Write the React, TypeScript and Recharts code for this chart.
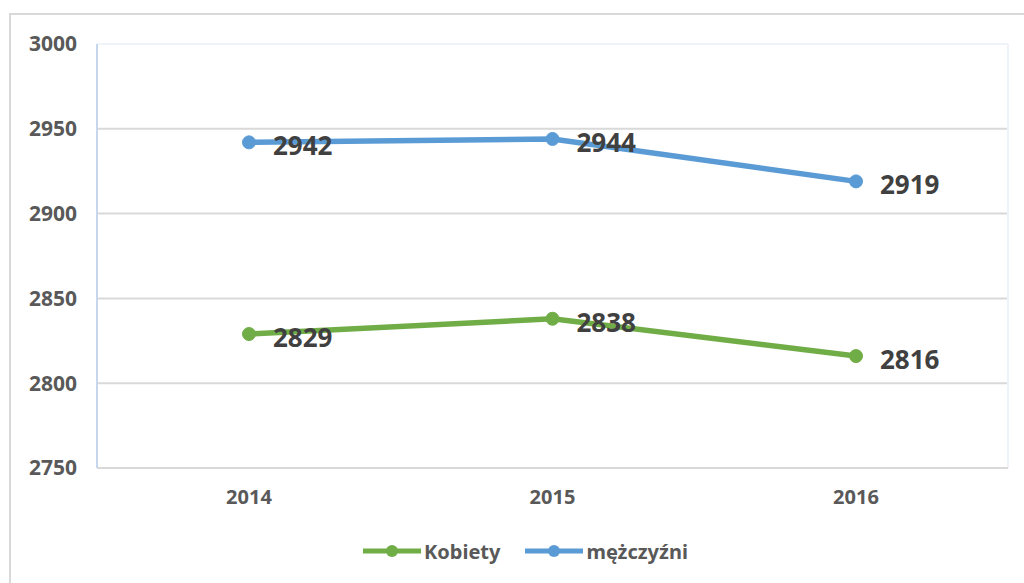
import { LineChart, Line, XAxis, YAxis, CartesianGrid, Legend, LabelList, ReferenceLine } from 'recharts'

const years = ['2014', '2015', '2016']
const kobiety = [2829, 2838, 2816]
const mezczyzni = [2942, 2944, 2919]
const yTicks = [2750, 2800, 2850, 2900, 2950, 3000]

const FONT = '"Noto Sans", "DejaVu Sans", sans-serif'

const series = [
  { key: 'kobiety', name: 'Kobiety', color: '#70AD47' },
  { key: 'mezczyzni', name: 'mężczyźni', color: '#5B9BD5' },
]

const chartData = years.map((year, i) => ({
  year,
  kobiety: kobiety[i],
  mezczyzni: mezczyzni[i],
}))

// etykieta wartości po prawej stronie punktu
const renderValue = (props: any) => {
  const { x, y, value } = props
  return (
    <text
      x={x + 24}
      y={y + 3}
      dominantBaseline="central"
      fill="#404040"
      fontSize={26}
      fontWeight={700}
      fontFamily={FONT}
    >
      {value}
    </text>
  )
}

const renderLegend = () => (
  <div style={{ display: 'flex', alignItems: 'center', paddingLeft: 363, height: 24 }}>
    {series.map((s, i) => (
      <div key={s.key} style={{ display: 'flex', alignItems: 'center', marginRight: i === 0 ? 25 : 0 }}>
        <svg width={58} height={16}>
          <line x1={0} y1={8} x2={58} y2={8} stroke={s.color} strokeWidth={5} strokeLinecap="round" />
          <circle cx={29} cy={8} r={6} fill={s.color} />
        </svg>
        <span
          style={{
            marginLeft: 3,
            fontFamily: FONT,
            fontWeight: 700,
            fontSize: 20,
            color: '#595959',
          }}
        >
          {s.name}
        </span>
      </div>
    ))}
  </div>
)

export default function App() {
  return (
    <div style={{ position: 'relative', width: 1024, height: 583, overflow: 'hidden', background: '#fff' }}>
      <style>{'body{margin:0;overflow:hidden}'}</style>
      <div
        style={{
          position: 'absolute',
          left: 9,
          top: 13,
          width: 1040,
          height: 620,
          border: '2px solid #d9d9d9',
          boxSizing: 'border-box',
        }}
      />
      <div style={{ position: 'absolute', left: 0, top: 0 }}>
        <LineChart
          width={1024}
          height={583}
          data={chartData}
          margin={{ top: 44, right: 16, left: 0, bottom: 20 }}
        >
          <CartesianGrid vertical={false} stroke="#d9d9d9" strokeWidth={2} />
          <CartesianGrid
            horizontal={false}
            stroke="#eef2fa"
            strokeWidth={2}
            verticalCoordinatesGenerator={({ offset }: any) => [offset.left + offset.width]}
          />
          <ReferenceLine y={3000} stroke="#f0f3fa" strokeWidth={2} />
          <XAxis
            dataKey="year"
            padding={{ left: 152, right: 152 }}
            axisLine={{ stroke: '#d9d9d9', strokeWidth: 2 }}
            tickLine={false}
            tickSize={0}
            tickMargin={22}
            height={71}
            tick={{ fill: '#595959', fontSize: 20, fontWeight: 700, fontFamily: FONT }}
          />
          <YAxis
            domain={[2750, 3000]}
            ticks={yTicks}
            width={97}
            axisLine={{ stroke: '#c5d6ee', strokeWidth: 2 }}
            tickLine={false}
            tickSize={0}
            tickMargin={20}
            tick={{ fill: '#595959', fontSize: 21, fontWeight: 700, fontFamily: FONT }}
          />
          <Legend verticalAlign="bottom" content={renderLegend} wrapperStyle={{ left: 0, width: 1024 }} />
          {series.map((s) => (
            <Line
              key={s.key}
              type="linear"
              dataKey={s.key}
              name={s.name}
              stroke={s.color}
              strokeWidth={5.5}
              dot={{ r: 6.5, fill: s.color, stroke: s.color, strokeWidth: 1 }}
              activeDot={false}
              isAnimationActive={false}
            >
              <LabelList dataKey={s.key} content={renderValue} />
            </Line>
          ))}
        </LineChart>
      </div>
    </div>
  )
}
